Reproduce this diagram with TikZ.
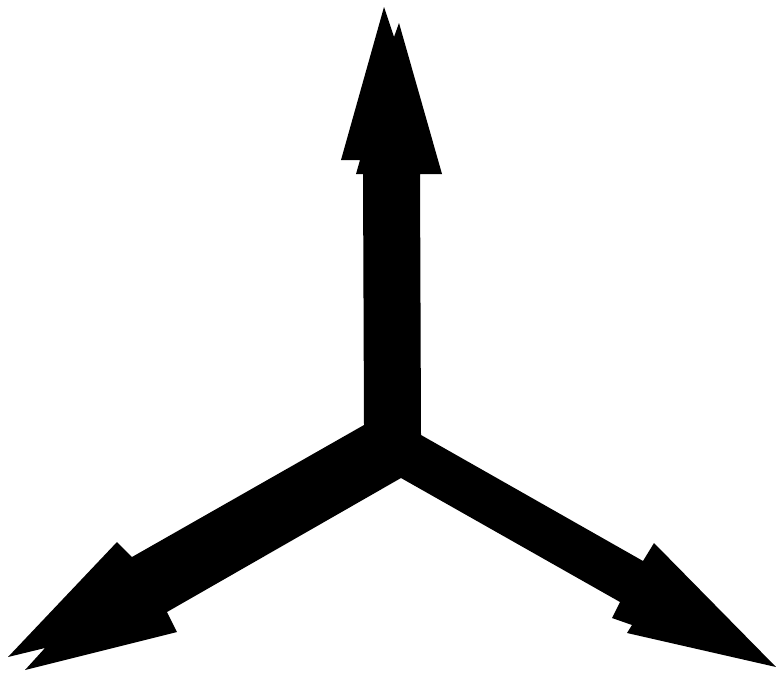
\documentclass[tikz,border=0pt]{standalone}
\begin{document}
\begin{tikzpicture}[x=1pt,y=-1pt,arrowshape/.style={fill=black,draw=none}]
\useasboundingbox (0,0) rectangle (776,672);
\fill[arrowshape] (384,7) -- (394,37) -- (399,23) -- (442,174) -- (420,174)
  -- (421,435) -- (643,561) -- (654,543) -- (776,667) -- (627,633) -- (632,625)
  -- (612,618) -- (620,602) -- (401,478) -- (167,612) -- (177,632) -- (25,670)
  -- (45,648) -- (8,657) -- (117,542) -- (132,557) -- (364,425) -- (363,174)
  -- (356,174) -- (360,160) -- (341,160) -- cycle;
\end{tikzpicture}
\end{document}
